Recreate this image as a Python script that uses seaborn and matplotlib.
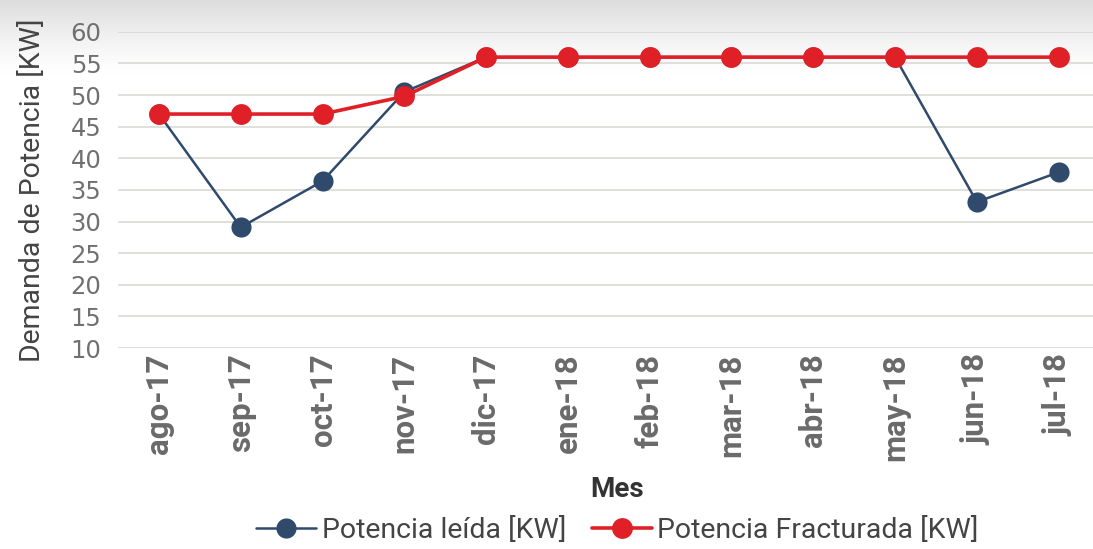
import numpy as np
import pandas as pd
import matplotlib
matplotlib.use("Agg")
import matplotlib.pyplot as plt
import seaborn as sns

# data
meses = ["ago-17", "sep-17", "oct-17", "nov-17", "dic-17", "ene-18",
         "feb-18", "mar-18", "abr-18", "may-18", "jun-18", "jul-18"]
potencia_leida = [47.0, 29.1, 36.4, 50.5, 56.0, 56.0, 56.0, 56.0, 56.0, 56.0, 33.1, 37.8]
potencia_facturada = [47.0, 47.0, 47.0, 49.8, 56.0, 56.0, 56.0, 56.0, 56.0, 56.0, 56.0, 56.0]
y_ticks = [10, 15, 20, 25, 30, 35, 40, 45, 50, 55, 60]

azul = "#2f4a6a"
rojo = "#e02027"

sns.set_style("white")
plt.rcParams["font.family"] = ["Roboto", "DejaVu Sans"]

fig = plt.figure(figsize=(10.93, 5.49), dpi=100)

# light grey shade along the top edge, fading down to white
bg = fig.add_axes([0, 1 - 75 / 549, 1, 75 / 549], zorder=-1)
shade = np.ones((60, 1, 4))
shade[:, :, :3] = 0.87
shade[:, 0, 3] = np.linspace(1.0, 0.0, 60) ** 1.3
bg.imshow(shade, aspect="auto", extent=[0, 1, 0, 1])
bg.axis("off")

ax = fig.add_axes([0.108, 0.366, 0.892, 0.576])
ax.patch.set_alpha(0)

sns.lineplot(x=meses, y=potencia_leida, ax=ax, color=azul, linewidth=1.8,
             marker="o", markersize=14.5, markeredgewidth=0, sort=False,
             label="Potencia leída [KW]", zorder=3)
sns.lineplot(x=meses, y=potencia_facturada, ax=ax, color=rojo, linewidth=2.6,
             marker="o", markersize=15, markeredgewidth=0, sort=False,
             label="Potencia Fracturada [KW]", zorder=4)

ax.set_ylim(10, 60)
ax.set_xlim(-0.5, 11.42)
ax.set_yticks(y_ticks)
ax.yaxis.grid(True, color="#d9d9d4", linewidth=1.2)
ax.set_axisbelow(True)
for s in ax.spines.values():
    s.set_visible(False)

ax.tick_params(axis="y", length=0, pad=12, labelsize=17.5, labelcolor="#707070")
for t in ax.get_yticklabels():
    t.set_family(["DejaVu Sans"])
ax.tick_params(axis="x", length=0, pad=4, labelsize=22.5, labelcolor="#6a6a6a")
ax.set_xticks(range(len(meses)))
ax.set_xticklabels(meses, rotation=90, fontweight="bold")

ax.set_ylabel("Demanda de Potencia [KW]", fontsize=20.5, color="#444444")
ax.yaxis.set_label_coords(-0.074, 0.5)
ax.set_xlabel("Mes", fontsize=20, fontweight="bold", color="#333333")
ax.xaxis.set_label_coords(0.512, -0.405)

ax.get_legend().remove()
handles, labels = ax.get_legend_handles_labels()
fig.legend(handles, labels, loc="center", bbox_to_anchor=(0.565, 1 - 530 / 549),
           ncol=2, frameon=False, fontsize=20.5, handlelength=2.1,
           columnspacing=0.9, handletextpad=0.2, labelcolor="#444444")

fig.savefig("out.png", dpi=100)
